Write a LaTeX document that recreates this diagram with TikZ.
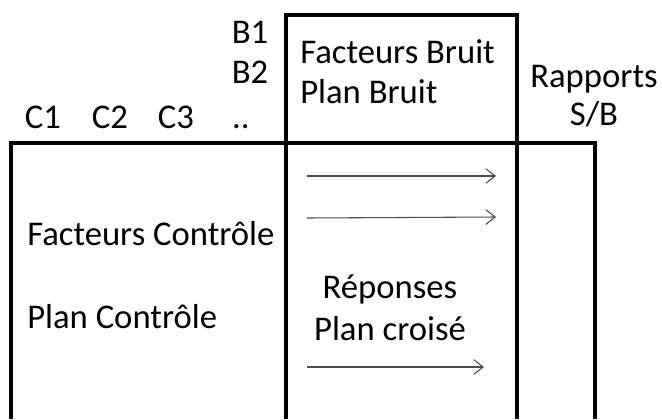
\documentclass[tikz,border=0pt]{standalone}
\usepackage{fontspec}
\setmainfont{Carlito}
\usetikzlibrary{arrows.meta}
\begin{document}
\begin{tikzpicture}[x=0.75pt,y=-0.75pt,
  frame/.style={line width=2.3pt},
  flow/.style={line width=0.8pt, draw=black!70, -{Straight Barb[length=7pt,width=11pt]}},
  lbl/.style={font=\fontsize{26}{30}\selectfont, inner sep=0pt, anchor=base}]
  \useasboundingbox (0,0) rectangle (662,419);

  % Define the corners of the frames
  \coordinate (NW) at (286,15);
  \coordinate (NE) at (517,15);
  \coordinate (L) at (11,143);
  \coordinate (R) at (595,143);
  \coordinate (Lb) at (11,419);
  \coordinate (Rb) at (595,419);
  \coordinate (NWb) at (286,419);
  \coordinate (NEb) at (517,419);

  % Draw the control frame and the ratio column
  \draw[frame] (Lb) -- (L) -- (R) -- (Rb);

  % Draw the noise frame
  \draw[frame] (NWb) -- (NW) -- (NE) -- (NEb);

  % Define the ends of the arrows
  \coordinate (a1) at (307,176);
  \coordinate (b1) at (496,176);
  \coordinate (a2) at (307,218);
  \coordinate (b2) at (496,217);
  \coordinate (a3) at (307,367);
  \coordinate (b3) at (484,367);

  % Draw the arrows
  \draw[flow] (a1) -- (b1);
  \draw[flow] (a2) -- (b2);
  \draw[flow] (a3) -- (b3);

  % Add labels for the factors
  \node[lbl] (c1) at (43,128) {C1};
  \node[lbl] (c2) at (110,128) {C2};
  \node[lbl] (c3) at (176,128) {C3};
  \node[lbl] (cdots) at (241,128) {..};
  \node[lbl] (b1lbl) at (250,43) {B1};
  \node[lbl] (b2lbl) at (250,83) {B2};

  % Add labels inside the frames
  \node[lbl, anchor=base west] (fb) at (300,63) {Facteurs Bruit};
  \node[lbl, anchor=base west] (pb) at (300,103) {Plan Bruit};
  \node[lbl] (rap) at (594,87) {Rapports};
  \node[lbl] (sb) at (594,125) {S/B};
  \node[lbl, anchor=base west] (fc) at (27,245) {Facteurs Contrôle};
  \node[lbl, anchor=base west] (pc) at (27,328) {Plan Contrôle};
  \node[lbl] (rep) at (390,298) {Réponses};
  \node[lbl] (pcr) at (390,340) {Plan croisé};

\end{tikzpicture}
\end{document}
